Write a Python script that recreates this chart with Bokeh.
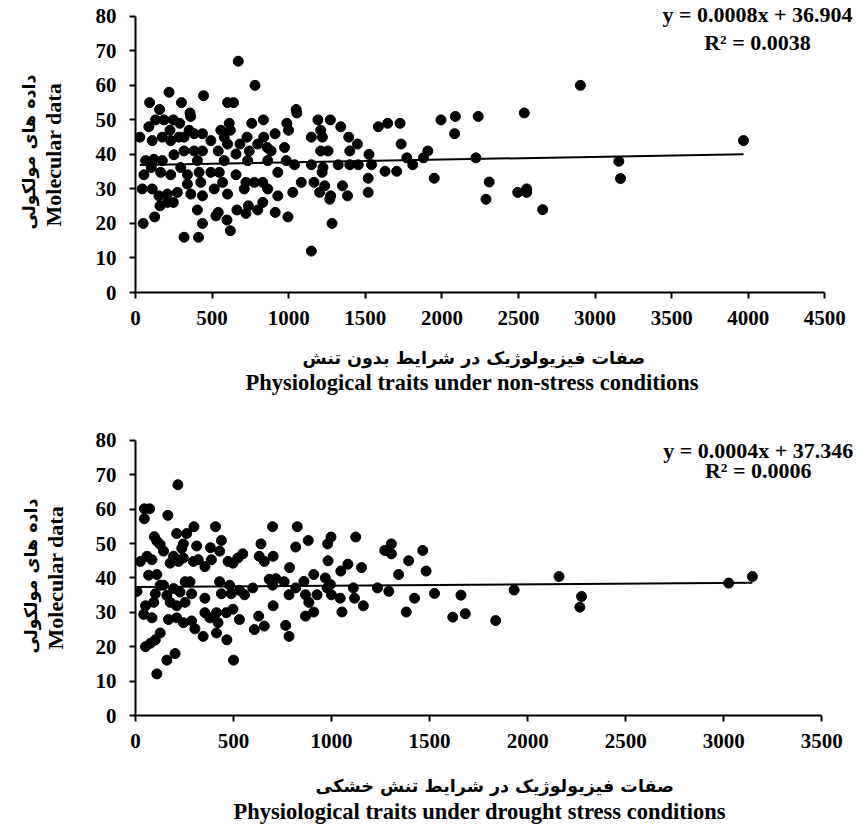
from bokeh.plotting import figure
from bokeh.layouts import column
from bokeh.models import Range1d, FixedTicker, Title, Label
from bokeh.embed import file_html
from bokeh.resources import INLINE

# ---------------- data: non-stress ----------------
ns_x = [671, 780, 219, 444, 92, 300, 601, 640, 157, 356, 360, 1049, 1053, 131, 186, 247, 289,
        87, 225, 350, 383, 437, 557, 612, 619, 759, 835, 988, 999, 1191, 1272, 1209, 1340,
        1585, 1646, 1727, 1994, 2088, 2083, 2237, 28, 109, 175, 230, 284, 317, 383, 437, 492,
        540, 579, 601, 682, 728, 743, 798, 837, 859, 885, 911, 973, 1148, 1220, 1209, 1257,
        1399, 1392, 1449, 1524, 1734, 1908, 1771, 1810, 1880, 2222,
        66, 120, 175, 251, 317, 404, 579, 656, 732, 863, 929, 984, 1038, 1148, 1224, 1323,
        1399, 1454, 1541,
        55, 103, 164, 230, 295, 339, 415, 492, 547, 656, 1218, 1519, 1629, 1705, 1950,
        44, 109, 153, 208, 273, 339, 361, 426, 437, 514, 568, 601, 710, 721, 776, 831, 863,
        929, 1027, 1082, 1165, 1202, 1235, 1274, 1268, 1351, 1384, 1519,
        160, 208, 247, 404, 540, 525, 597, 662, 721, 737, 798, 831, 912, 995,
        50, 125, 437, 619, 1283, 317, 411, 1148,
        2309, 2288, 2495, 2553, 2553, 2658, 2904, 2538, 3155, 3166, 3969]
ns_y = [67, 60, 58, 57, 55, 55, 55, 55, 53, 52, 51, 53, 52, 50, 50, 50, 49,
        48, 47, 47, 46, 46, 47, 49, 47, 49, 50, 49, 47, 50, 50, 47, 48,
        48, 49, 49, 50, 51, 46, 51, 45, 44, 45, 44, 45, 45, 41, 41, 44,
        41, 45, 43, 43, 45, 41, 43, 45, 42, 41, 46, 42, 45, 45, 41, 41,
        41, 45, 43, 40, 43, 41, 39, 37, 39, 39,
        38.2, 38.6, 38.2, 39.9, 41, 38.2, 38.2, 40.1, 38.2, 38.2, 34.8, 38.2, 37, 37, 36.2, 37,
        37, 37, 37,
        34.1, 36.2, 34.8, 34.1, 36.2, 34.1, 34.8, 34.8, 34.8, 34.1, 34.8, 33.1, 35.1, 35.1, 33.1,
        30, 30, 28, 28.5, 29, 31.4, 28.5, 31.9, 28, 30, 31.9, 28.5, 30, 31.9, 31.9, 31.9, 30,
        28, 29, 31.9, 31.9, 29, 30.9, 28, 27, 30.9, 28, 29,
        25.1, 26.1, 26.1, 23.9, 23.2, 22.2, 21, 23.9, 22.9, 25.1, 23.9, 26.1, 23.2, 21.9,
        20, 21.9, 20, 17.9, 20, 16, 16, 12,
        32, 27, 29, 30, 29, 24, 60, 52, 38, 33, 44]

# ---------------- data: drought stress ----------------
dr_x = [216, 45, 72, 45, 165, 96, 109, 126, 143, 210, 261, 298, 244, 236, 312, 320, 382, 387,
        429, 438, 408, 25, 59, 84, 177, 194, 219, 244, 295, 354, 472, 497, 522, 547, 640, 631,
        657, 702, 699, 825, 881, 786, 817, 980, 997, 982, 1047, 1083, 1123, 1153, 1271, 1305,
        1305, 1342, 1393, 1465, 1482,
        8, 67, 109, 126, 101, 143, 160, 194, 227, 253, 278, 286, 51, 93, 177, 210, 253, 354,
        429, 438, 480, 488, 530, 556, 598, 682, 716, 699, 758, 783, 817, 859, 867, 884, 909,
        926, 968, 977, 994, 999, 1044, 1111, 1117, 1234, 1292, 1423,
        42, 84, 168, 210, 244, 286, 303, 345, 354, 379, 413, 421, 463, 497, 530, 413, 628,
        606, 657, 702, 766, 783, 867, 909, 1053, 1162, 1381,
        51, 76, 101, 126, 466, 160, 202, 109, 500,
        1525, 1660, 1618, 1682, 1837, 1931, 2160, 2275, 2266, 3025, 3146]
dr_y = [67.1, 60.1, 60.1, 57.2, 58.2, 52, 50.7, 49.7, 47.8, 52.9, 52.9, 54.9, 49.9, 48.6, 49.3,
        45.3, 48.8, 45.3, 47.8, 50.9, 54.9, 44.8, 46.3, 45.3, 44.3, 46.3, 44.8, 45.8, 44.8,
        43.3, 44.8, 44.3, 45.8, 47, 49.9, 46.3, 44.8, 46.3, 54.9, 54.9, 50.9, 43, 49, 49.9,
        51.9, 45, 42, 44, 51.9, 43, 48, 49.9, 47, 41, 45, 48, 42,
        36.1, 40.8, 41, 37.9, 35.4, 37.9, 34.9, 36.9, 35.9, 38.9, 38.9, 35.4, 31.9, 32.9, 32.9,
        31.9, 32.9, 34.1, 38.9, 35.4, 37.9, 35.4, 36.4, 35.1, 37.1, 39.6, 39.8, 37.9, 38.9,
        35.1, 37.1, 39, 35.1, 32.9, 41, 35.1, 40, 37.1, 38.1, 35.1, 34.1, 37.1, 34.1, 37.1,
        36.1, 34.1,
        29.4, 28.4, 27.9, 28.4, 27, 27.5, 25.2, 23, 29.9, 28.4, 29.9, 27, 29.9, 30.9, 27.9, 24,
        28.9, 25, 26, 31.9, 26.2, 23, 28.9, 30.1, 30.1, 31.9, 30.1,
        20, 21, 22, 24, 22, 16.1, 18, 12.1, 16.1,
        35.5, 35, 28.6, 29.6, 27.6, 36.5, 40.4, 34.6, 31.5, 38.5, 40.4]

ns_slope, ns_intercept, ns_r2 = 0.0008, 36.904, 0.0038
dr_slope, dr_intercept, dr_r2 = 0.0004, 37.346, 0.0006

ns_xticks = [0, 500, 1000, 1500, 2000, 2500, 3000, 3500, 4000, 4500]
dr_xticks = [0, 500, 1000, 1500, 2000, 2500, 3000, 3500]
y_ticks = [0, 10, 20, 30, 40, 50, 60, 70, 80]

y_label_fa = "داده های مولکولی"
y_label_en = "Molecular data"
ns_label_fa = "صفات فیزیولوژیک در شرایط بدون تنش"
ns_label_en = "Physiological traits under non-stress conditions"
dr_label_fa = "صفات فیزیولوژیک در شرایط تنش خشکی"
dr_label_en = "Physiological traits under drought stress conditions"

SERIF = "Liberation Serif"
ARAB = "DejaVu Sans"


def title(text, font, size, align, offset, standoff):
    return Title(text=text, align=align, offset=offset, text_font=font,
                 text_font_style="bold", text_font_size=size, text_color="black",
                 standoff=standoff)


def make_plot(xs, ys, slope, intercept, r2, xticks, lab_fa, lab_en, height,
              bl, br, bt, bb, x_end, y_end, eq_x, eq_y1, eq_y2,
              fa_x_off, en_x_off, en_y_off, fa_y_off, gap_x, gap_y, en_x_so):
    p = figure(width=857, height=height,
               x_range=Range1d(0, x_end), y_range=Range1d(0, y_end),
               output_backend="svg", toolbar_location=None,
               min_border_left=bl, min_border_right=br,
               min_border_top=bt, min_border_bottom=bb)
    p.grid.visible = False
    p.outline_line_color = None
    p.background_fill_color = "white"

    for ax in (p.xaxis[0], p.yaxis[0]):
        ax.axis_line_width = 2
        ax.axis_line_color = "black"
        ax.major_tick_line_width = 2
        ax.major_tick_line_color = "black"
        ax.major_tick_out = 6
        ax.major_tick_in = 0
        ax.minor_tick_out = 0
        ax.minor_tick_in = 0
        ax.major_label_text_font = SERIF
        ax.major_label_text_font_style = "bold"
        ax.major_label_text_font_size = "21px"
        ax.major_label_text_color = "black"
        # blank axis label used only as a spacer before the titles
        ax.axis_label = " "
        ax.axis_label_text_font_size = "1px"

    p.xaxis.major_label_standoff = 12
    p.yaxis.major_label_standoff = 13
    p.xaxis.axis_label_standoff = gap_x
    p.yaxis.axis_label_standoff = gap_y
    p.xaxis.ticker = FixedTicker(ticks=xticks)
    p.yaxis.ticker = FixedTicker(ticks=y_ticks)
    p.xaxis.bounds = (xticks[0], xticks[-1])
    p.yaxis.bounds = (y_ticks[0], y_ticks[-1])

    # x-axis titles (Persian, then English), stacked below the axis
    p.add_layout(title(lab_fa, ARAB, "17.5px", "left", fa_x_off, 0), "below")
    p.add_layout(title(lab_en, SERIF, "22.5px", "left", en_x_off, en_x_so), "below")
    # y-axis titles (English nearest the axis, Persian outside)
    p.add_layout(title(y_label_en, SERIF, "22px", "left", en_y_off, 0), "left")
    p.add_layout(title(y_label_fa, ARAB, "17.5px", "left", fa_y_off, 0), "left")

    p.scatter(xs, ys, size=10, marker="circle", fill_color="black", line_color="black")

    x0, x1 = min(xs), max(xs)
    p.line([x0, x1], [slope * x0 + intercept, slope * x1 + intercept],
           line_color="black", line_width=2)

    eq1 = Label(x=eq_x, y=eq_y1, text=f"y = {slope}x + {intercept}", text_align="center",
                text_baseline="middle", text_font=SERIF, text_font_style="bold",
                text_font_size="22px", text_color="black")
    eq2 = Label(x=eq_x, y=eq_y2, text=f"R² = {r2}", text_align="center",
                text_baseline="middle", text_font=SERIF, text_font_style="bold",
                text_font_size="22px", text_color="black")
    p.add_layout(eq1)
    p.add_layout(eq2)
    return p


p1 = make_plot(ns_x, ns_y, ns_slope, ns_intercept, ns_r2, ns_xticks, ns_label_fa, ns_label_en,
               413, 135, 2, 2, 121, 4700, 84, 4060, 80.4, 72.3,
               167, 110, 66, 63, 14, 23, 0)
p2 = make_plot(dr_x, dr_y, dr_slope, dr_intercept, dr_r2, dr_xticks, dr_label_fa, dr_label_en,
               413, 130, 2, 20, 111, 3672, 82, 3176, 77.2, 71.1,
               180, 98, 66, 62, 19, 21, 2)

layout = column(p1, p2)
open("out.html", "w").write(file_html(layout, INLINE))
